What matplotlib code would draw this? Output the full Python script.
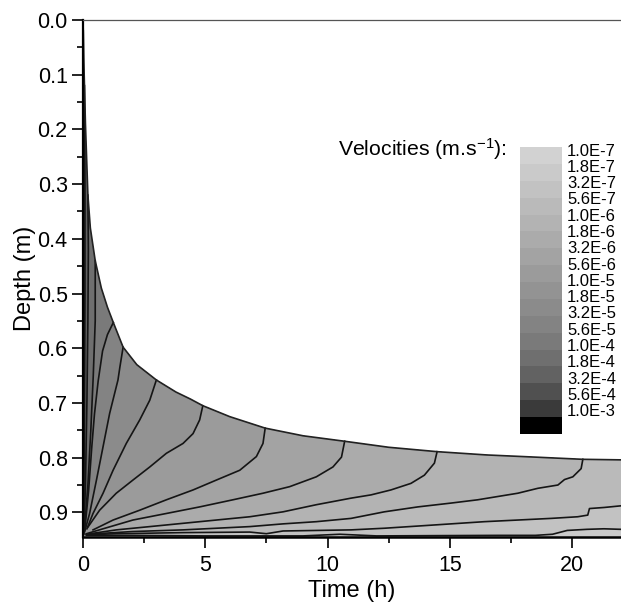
"""
Iso-velocity map of the infiltration front (depth vs time).

Filled bands between the iso-velocity lines, the dry zone above the
front left white, and a stepped grey legend on the right.

Output:
- out.png
"""

import numpy as np
import matplotlib.pyplot as plt


OUTPUT_FILE = "out.png"

T_MAX = 22.0
D_BOTTOM = 0.945

# wetting front (time in h, depth in m)
FRONT_T = [0.0, 0.01, 0.03, 0.06, 0.1, 0.2, 0.3, 0.5, 0.75, 1.0, 1.24, 1.64,
           2.2, 3.0, 3.8, 4.4, 4.9, 6.0, 7.45, 9.0, 10.7, 12.5, 14.48, 16.5,
           18.5, 20.44, 22.0]
FRONT_D = [0.0, 0.02, 0.07, 0.12, 0.19, 0.32, 0.38, 0.44, 0.49, 0.525, 0.553,
           0.598, 0.63, 0.658, 0.68, 0.693, 0.705, 0.725, 0.746, 0.76, 0.770,
           0.781, 0.789, 0.795, 0.799, 0.803, 0.804]

# iso-velocity lines, read from their end (front or right edge) to the corner
LINE_00 = [(0.01, 0.02), (0.03, 0.3), (0.03, 0.6), (0.02, 0.9), (0.01, 0.94)]
LINE_01 = [(0.06, 0.12), (0.08, 0.3), (0.08, 0.5), (0.06, 0.7), (0.03, 0.9),
           (0.01, 0.94)]
LINE_02 = [(0.2, 0.32), (0.22, 0.42), (0.2, 0.55), (0.16, 0.7), (0.1, 0.85),
           (0.04, 0.93)]
LINE_03 = [(0.5, 0.44), (0.5, 0.55), (0.42, 0.65), (0.32, 0.75), (0.2, 0.85),
           (0.08, 0.92), (0.02, 0.94)]
LINE_04 = [(1.24, 0.553), (1.0, 0.575), (0.8, 0.605), (0.62, 0.66),
           (0.47, 0.72), (0.36, 0.78), (0.23, 0.86), (0.1, 0.92), (0.03, 0.94)]
LINE_05 = [(1.64, 0.598), (1.51, 0.634), (1.43, 0.658), (1.09, 0.719),
           (0.82, 0.78), (0.55, 0.841), (0.27, 0.902), (0.07, 0.935)]
LINE_06 = [(3.0, 0.658), (2.73, 0.695), (2.32, 0.731), (1.77, 0.774),
           (1.23, 0.823), (0.82, 0.865), (0.41, 0.902), (0.16, 0.93)]
LINE_07 = [(4.9, 0.705), (4.77, 0.731), (4.5, 0.756), (4.09, 0.774),
           (3.41, 0.792), (2.73, 0.817), (2.04, 0.841), (1.36, 0.865),
           (0.68, 0.896), (0.2, 0.927)]
LINE_08 = [(7.45, 0.746), (7.36, 0.774), (7.09, 0.798), (6.41, 0.823),
           (5.45, 0.841), (4.5, 0.859), (3.41, 0.877), (2.32, 0.896),
           (1.23, 0.914), (0.41, 0.932)]
LINE_09 = [(10.7, 0.770), (10.57, 0.799), (10.22, 0.817), (9.54, 0.835),
           (8.45, 0.853), (7.36, 0.865), (6.13, 0.877), (4.77, 0.89),
           (3.41, 0.902), (2.04, 0.914), (0.82, 0.93), (0.14, 0.939)]
LINE_10 = [(14.48, 0.789), (14.37, 0.81), (13.96, 0.832), (13.41, 0.847),
           (12.59, 0.859), (11.78, 0.868), (10.96, 0.874), (9.54, 0.886),
           (8.18, 0.899), (6.82, 0.908), (5.45, 0.914), (4.09, 0.92),
           (2.73, 0.926), (1.36, 0.932), (0.14, 0.94)]
LINE_11 = [(20.44, 0.803), (20.37, 0.82), (20.03, 0.835), (19.69, 0.84),
           (19.42, 0.85), (18.6, 0.856), (17.78, 0.865), (16.96, 0.871),
           (16.14, 0.877), (15.05, 0.883), (13.69, 0.89), (12.32, 0.899),
           (10.96, 0.911), (9.54, 0.917), (8.18, 0.921), (6.82, 0.926),
           (5.45, 0.929), (4.09, 0.932), (2.04, 0.935), (0.14, 0.94)]
LINE_12 = [(22.0, 0.888), (21.32, 0.891), (20.71, 0.893), (20.64, 0.905),
           (20.23, 0.908), (19.14, 0.911), (17.78, 0.914), (16.41, 0.917),
           (15.05, 0.921), (13.69, 0.925), (12.32, 0.929), (10.96, 0.932),
           (8.18, 0.934), (7.5, 0.939), (6.82, 0.936), (4.09, 0.937),
           (1.36, 0.939), (0.14, 0.941)]
LINE_13 = [(22.0, 0.931), (21.3, 0.930), (20.6, 0.931), (19.8, 0.933),
           (19.2, 0.940), (18.5, 0.942), (17.0, 0.942), (12.0, 0.943),
           (10.5, 0.940), (9.0, 0.943), (5.0, 0.943), (2.0, 0.942),
           (0.14, 0.942)]

LINES = [LINE_00, LINE_01, LINE_02, LINE_03, LINE_04, LINE_05, LINE_06,
         LINE_07, LINE_08, LINE_09, LINE_10, LINE_11, LINE_12, LINE_13]
# legend level painted on the lower/right side of each line
LINE_LEVEL = [14, 13, 12, 11, 10, 9, 8, 7, 6, 5, 4, 3, 2, 1]

LEVEL_LABELS = ["1.0E-7", "1.8E-7", "3.2E-7", "5.6E-7", "1.0E-6", "1.8E-6",
                "3.2E-6", "5.6E-6", "1.0E-5", "1.8E-5", "3.2E-5", "5.6E-5",
                "1.0E-4", "1.8E-4", "3.2E-4", "5.6E-4", "1.0E-3"]
LEVEL_GREYS = ["#d2d2d2", "#cacaca", "#c2c2c2", "#bababa", "#b3b3b3",
               "#ababab", "#a3a3a3", "#9b9b9b", "#939393", "#8b8b8b",
               "#838383", "#7a7a7a", "#6f6f6f", "#626262", "#505050",
               "#3a3a3a", "#000000"]

FIG_W, FIG_H = 621, 602


def setup_fonts() -> None:
    """Arial-like text everywhere, including the superscript."""
    plt.rcParams["font.family"] = ["Liberation Sans", "DejaVu Sans"]
    plt.rcParams["mathtext.fontset"] = "custom"
    plt.rcParams["mathtext.rm"] = "Liberation Sans"
    plt.rcParams["mathtext.it"] = "Liberation Sans:italic"


def band_polygon(line):
    """Polygon of the domain lying below / right of one iso-line."""
    t = [p[0] for p in line]
    d = [p[1] for p in line]
    poly_t = t + [0.0, 0.0, T_MAX]
    poly_d = d + [D_BOTTOM, D_BOTTOM, D_BOTTOM]
    end_t = t[0]
    if end_t >= T_MAX:
        poly_t.append(T_MAX)
        poly_d.append(d[0])
    else:
        front_t = np.array(FRONT_T)
        front_d = np.array(FRONT_D)
        keep = front_t > end_t
        poly_t += list(front_t[keep][::-1])
        poly_d += list(front_d[keep][::-1])
    return poly_t, poly_d


def draw_field(ax) -> None:
    """Filled bands, iso-lines and front."""
    dom_t = FRONT_T + [T_MAX, 0.0]
    dom_d = FRONT_D + [D_BOTTOM, D_BOTTOM]
    ax.fill(dom_t, dom_d, color=LEVEL_GREYS[16], lw=0)

    for line, level in zip(LINES, LINE_LEVEL):
        pt, pd_ = band_polygon(line)
        ax.fill(pt, pd_, color=LEVEL_GREYS[level], lw=0)

    for line in LINES:
        ax.plot([p[0] for p in line], [p[1] for p in line],
                color="#151515", lw=1.2)

    ax.plot(FRONT_T, FRONT_D, color="#222222", lw=1.2)


def style_axes(ax) -> None:
    ax.set_xlim(0, T_MAX)
    ax.set_ylim(D_BOTTOM, 0.0)
    ax.set_xticks([0, 5, 10, 15, 20])
    ax.set_xticks(np.arange(2.5, 22, 5), minor=True)
    ax.set_yticks(np.arange(0, 0.95, 0.1))
    ax.set_yticks(np.arange(0.05, 0.95, 0.1), minor=True)
    ax.set_yticklabels([f"{v:.1f}" for v in np.arange(0, 0.95, 0.1)])

    ax.tick_params(which="major", direction="out", length=8, width=1.2,
                   labelsize=15.5, pad=3)
    ax.tick_params(axis="x", which="major", pad=5)
    ax.tick_params(which="minor", direction="out", length=4.5, width=1.2)
    ax.tick_params(axis="x", which="both", top=False)
    ax.tick_params(axis="y", which="both", right=False)

    ax.spines["left"].set_linewidth(1.6)
    ax.spines["bottom"].set_linewidth(1.8)
    ax.spines["top"].set_linewidth(0.9)
    ax.spines["top"].set_color("#555555")
    ax.spines["right"].set_visible(False)

    ax.set_xlabel("Time (h)", fontsize=17, labelpad=3)
    ax.set_ylabel("Depth (m)", fontsize=17, labelpad=1)


def draw_legend(fig) -> None:
    """Stepped grey scale with its level labels."""
    top, bottom, left, right = 147, 434, 520, 562
    cax = fig.add_axes([left / FIG_W, 1 - bottom / FIG_H,
                        (right - left) / FIG_W, (bottom - top) / FIG_H])
    n = len(LEVEL_GREYS)
    cax.barh(np.arange(n), 1, height=1.0, color=LEVEL_GREYS, lw=0)
    cax.set_xlim(0, 1)
    cax.set_ylim(n - 0.5, -0.5)
    cax.axis("off")

    for i, label in enumerate(LEVEL_LABELS):
        y = 151 + 16.3 * i
        fig.text(567 / FIG_W, 1 - y / FIG_H, label, fontsize=12,
                 ha="left", va="center")

    fig.text(507 / FIG_W, 1 - 149 / FIG_H, r"Velocities (m.s$^{-1}$):",
             fontsize=15.3, ha="right", va="center")


def main() -> None:
    setup_fonts()
    fig = plt.figure(figsize=(FIG_W / 100, FIG_H / 100), dpi=100)
    ax = fig.add_axes([83 / FIG_W, 1 - 537 / FIG_H,
                       (FIG_W - 83) / FIG_W, (537 - 20) / FIG_H])

    draw_field(ax)
    style_axes(ax)
    draw_legend(fig)

    fig.savefig(OUTPUT_FILE, dpi=100)
    plt.close(fig)


if __name__ == "__main__":
    main()
